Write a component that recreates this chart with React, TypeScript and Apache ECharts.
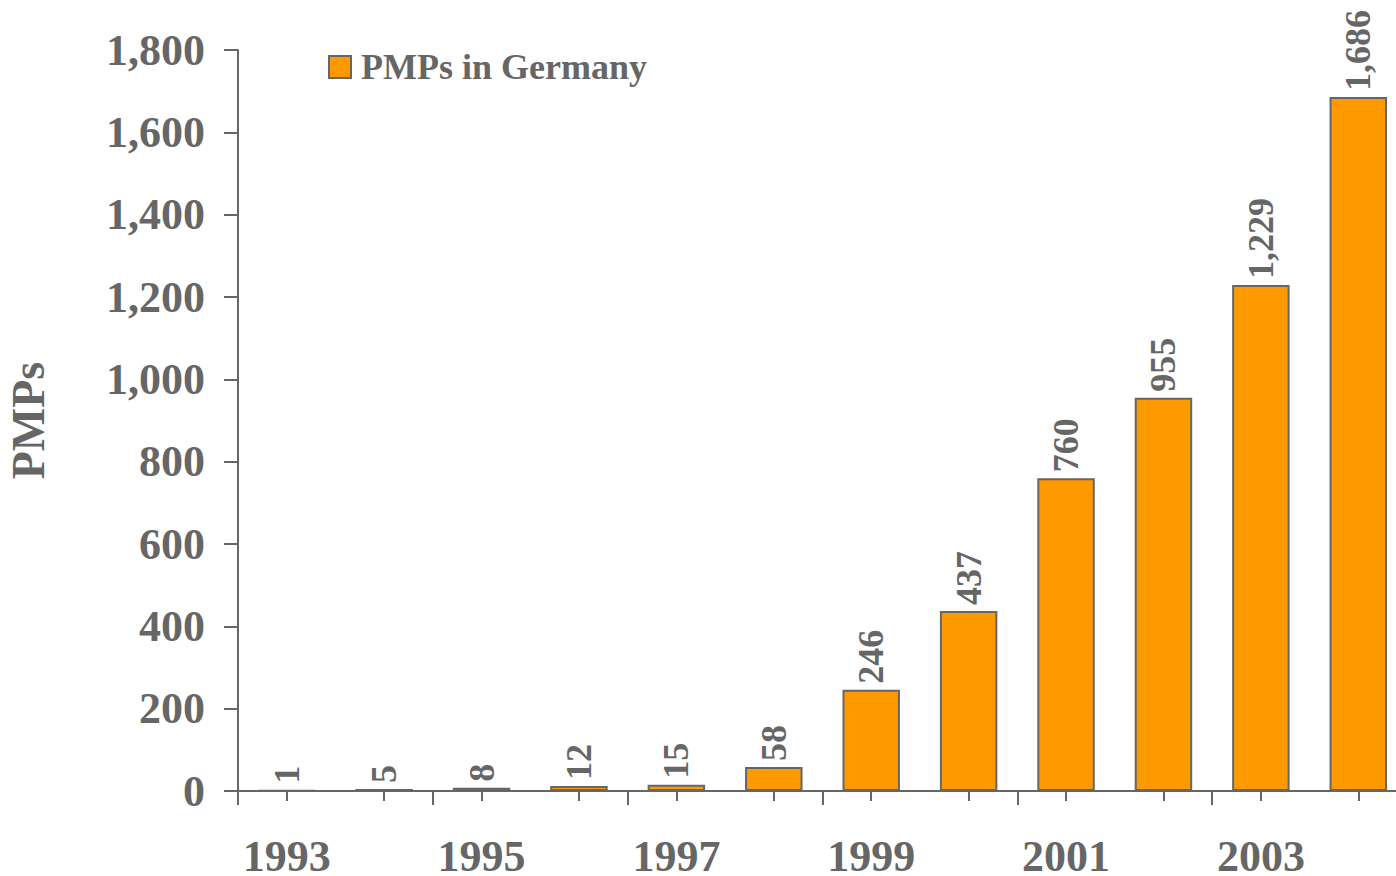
import React, { useEffect, useRef } from "react";
import * as echarts from "echarts";

const years = ["1993", "1994", "1995", "1996", "1997", "1998", "1999", "2000", "2001", "2002", "2003", "2004"];
const pmps = [1, 5, 8, 12, 15, 58, 246, 437, 760, 955, 1229, 1686];
const seriesName = "PMPs in Germany";
const yAxisName = "PMPs";

const FONT = '"Liberation Serif", "Times New Roman", serif';
const GRAY = "#666666";
const ORANGE = "#FF9900";

const fmt = (v: number) => v.toLocaleString("en-US");

export default function App() {
  const ref = useRef<HTMLDivElement>(null);
  useEffect(() => {
    if (!ref.current) return;
    const chart = echarts.init(ref.current, undefined, { renderer: "svg" });
    chart.setOption({
      animation: false,
      backgroundColor: "#ffffff",
      grid: { left: 238, right: 0, top: 50, bottom: 85, containLabel: false, outerBoundsMode: "none" },
      legend: {
        show: true,
        left: 328,
        top: 49,
        padding: 0,
        itemWidth: 22,
        itemHeight: 22,
        itemGap: 10,
        icon: "rect",
        textStyle: { fontFamily: FONT, fontWeight: "bold", fontSize: 36, color: GRAY, padding: [0, 0, 0, 5] },
        data: [seriesName],
      },
      xAxis: [
        {
          type: "category",
          data: years,
          position: "bottom",
          axisLine: { show: true, lineStyle: { color: GRAY, width: 2 } },
          axisTick: { show: true, alignWithLabel: false, length: 14, lineStyle: { color: GRAY, width: 2 } },
          axisLabel: {
            interval: 1,
            margin: 43,
            fontFamily: FONT,
            fontWeight: "bold",
            fontSize: 44,
            color: GRAY,
          },
          splitLine: { show: false },
        },
        {
          type: "category",
          data: years,
          position: "bottom",
          axisLine: { show: false },
          axisTick: { show: true, alignWithLabel: true, length: 10, lineStyle: { color: GRAY, width: 2 } },
          axisLabel: { show: false },
          splitLine: { show: false },
        },
      ],
      yAxis: {
        type: "value",
        min: 0,
        max: 1800,
        interval: 200,
        name: yAxisName,
        nameLocation: "middle",
        nameRotate: 90,
        nameGap: 187,
        nameTextStyle: { fontFamily: FONT, fontWeight: "bold", fontSize: 46, color: GRAY },
        axisLine: { show: true, lineStyle: { color: GRAY, width: 2 } },
        axisTick: { show: true, length: 14, lineStyle: { color: GRAY, width: 2 } },
        axisLabel: {
          margin: 33,
          formatter: (v: number) => fmt(v),
          fontFamily: FONT,
          fontWeight: "bold",
          fontSize: 44,
          color: GRAY,
        },
        splitLine: { show: false },
      },
      series: [
        {
          name: seriesName,
          type: "bar",
          xAxisIndex: 0,
          data: pmps,
          barWidth: "59%",
          itemStyle: { color: ORANGE, borderColor: GRAY, borderWidth: 2 },
          label: {
            show: true,
            position: "top",
            rotate: 90,
            align: "left",
            verticalAlign: "middle",
            distance: 6,
            formatter: (p: any) => fmt(p.value),
            fontFamily: FONT,
            fontWeight: "bold",
            fontSize: 36,
            color: GRAY,
          },
        },
      ],
    });
    return () => chart.dispose();
  }, []);
  return (
    <div
      style={{
        position: "fixed",
        left: 0,
        top: 0,
        width: 1396,
        height: 876,
        overflow: "hidden",
        background: "#fff",
      }}
    >
      <div ref={ref} style={{ width: 1407, height: 876 }} />
    </div>
  );
}
